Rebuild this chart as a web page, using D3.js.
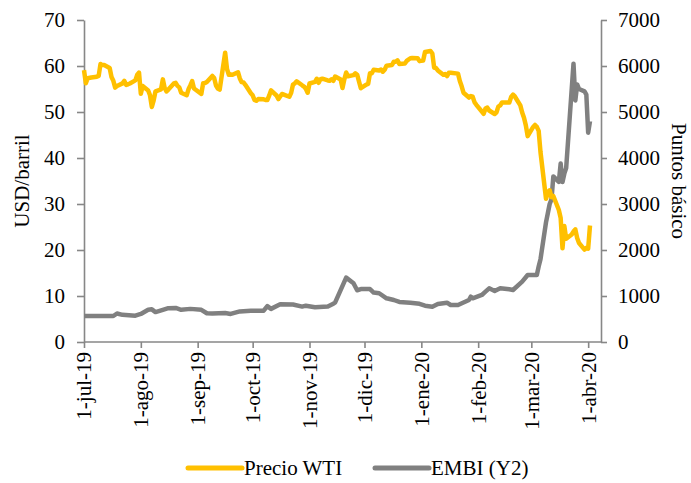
<!DOCTYPE html>
<html>
<head>
<meta charset="utf-8">
<script src="https://cdn.jsdelivr.net/npm/d3@7"></script>
<style>
  body { margin: 0; background: #fff; }
  svg text { font-family: "Liberation Serif", "Times New Roman", serif; fill: #000; }
</style>
</head>
<body>
<figure style="margin:0"></figure>
<script>
// WTI, USD/barril (daily)
const wtiDates = [
  "2019-07-01","2019-07-02","2019-07-03","2019-07-05","2019-07-08","2019-07-09","2019-07-10","2019-07-11","2019-07-12",
  "2019-07-15","2019-07-16","2019-07-17","2019-07-18","2019-07-19","2019-07-22","2019-07-23","2019-07-24","2019-07-25",
  "2019-07-26","2019-07-29","2019-07-30","2019-07-31",
  "2019-08-01","2019-08-02","2019-08-05","2019-08-06","2019-08-07","2019-08-08","2019-08-09","2019-08-12","2019-08-13",
  "2019-08-14","2019-08-15","2019-08-16","2019-08-19","2019-08-20","2019-08-21","2019-08-22","2019-08-23","2019-08-26",
  "2019-08-27","2019-08-28","2019-08-29","2019-08-30",
  "2019-09-03","2019-09-04","2019-09-05","2019-09-06","2019-09-09","2019-09-10","2019-09-11","2019-09-12","2019-09-13",
  "2019-09-16","2019-09-17","2019-09-18","2019-09-19","2019-09-20","2019-09-23","2019-09-24","2019-09-25","2019-09-26",
  "2019-09-27","2019-09-30",
  "2019-10-01","2019-10-02","2019-10-03","2019-10-04","2019-10-07","2019-10-08","2019-10-09","2019-10-10","2019-10-11",
  "2019-10-14","2019-10-15","2019-10-16","2019-10-17","2019-10-18","2019-10-21","2019-10-22","2019-10-23","2019-10-24",
  "2019-10-25","2019-10-28","2019-10-29","2019-10-30","2019-10-31",
  "2019-11-01","2019-11-04","2019-11-05","2019-11-06","2019-11-07","2019-11-08","2019-11-11","2019-11-12","2019-11-13",
  "2019-11-14","2019-11-15","2019-11-18","2019-11-19","2019-11-20","2019-11-21","2019-11-22","2019-11-25","2019-11-26",
  "2019-11-27","2019-11-29",
  "2019-12-02","2019-12-03","2019-12-04","2019-12-05","2019-12-06","2019-12-09","2019-12-10","2019-12-11","2019-12-12",
  "2019-12-13","2019-12-16","2019-12-17","2019-12-18","2019-12-19","2019-12-20","2019-12-23","2019-12-24","2019-12-26",
  "2019-12-27","2019-12-30","2019-12-31",
  "2020-01-02","2020-01-03","2020-01-06","2020-01-07","2020-01-08","2020-01-09","2020-01-10","2020-01-13","2020-01-14",
  "2020-01-15","2020-01-16","2020-01-17","2020-01-21","2020-01-22","2020-01-23","2020-01-24","2020-01-27","2020-01-28",
  "2020-01-29","2020-01-30","2020-01-31",
  "2020-02-03","2020-02-04","2020-02-05","2020-02-06","2020-02-07","2020-02-10","2020-02-11","2020-02-12","2020-02-13",
  "2020-02-14","2020-02-18","2020-02-19","2020-02-20","2020-02-21","2020-02-24","2020-02-25","2020-02-26","2020-02-27",
  "2020-02-28",
  "2020-03-02","2020-03-03","2020-03-04","2020-03-05","2020-03-06","2020-03-09","2020-03-10","2020-03-11","2020-03-12",
  "2020-03-13","2020-03-16","2020-03-17","2020-03-18","2020-03-19","2020-03-20","2020-03-23","2020-03-24","2020-03-25",
  "2020-03-26","2020-03-27","2020-03-30","2020-03-31","2020-04-01","2020-04-02"
];
const wtiValues = [
  59.09,56.25,57.34,57.51,57.66,57.83,60.43,60.20,60.21,
  59.58,57.62,56.78,55.30,55.63,56.22,56.77,55.88,56.02,
  56.20,56.87,58.05,58.58,
  53.95,55.66,54.69,53.63,51.09,52.54,54.50,54.93,57.10,
  55.23,54.47,54.87,56.21,56.34,55.68,55.35,54.17,53.64,
  54.93,55.78,56.71,55.10,
  53.94,56.26,56.30,56.52,57.85,57.40,55.75,55.09,54.85,
  62.90,59.34,58.11,58.13,58.09,58.64,57.29,56.49,56.41,
  55.91,54.07,
  53.62,52.64,52.45,52.81,52.75,52.63,52.59,53.55,54.70,
  53.59,52.81,53.36,53.93,53.78,53.31,54.16,55.97,56.23,
  56.66,55.81,55.54,55.06,54.18,
  56.20,56.54,57.23,56.35,57.15,57.24,56.86,56.80,57.12,
  56.77,57.72,57.05,55.21,57.11,58.58,57.77,58.01,58.41,
  58.11,55.17,
  55.96,56.10,58.43,58.43,59.20,59.02,59.24,58.76,59.18,
  60.07,60.21,60.94,60.93,61.22,60.44,60.52,61.11,61.68,
  61.72,61.68,61.06,
  61.18,63.05,63.27,62.70,59.61,59.56,59.04,58.08,58.23,
  57.81,58.52,58.54,58.34,56.74,55.59,54.19,53.14,53.48,
  53.33,52.14,51.56,
  50.11,49.61,50.75,50.95,50.32,49.57,49.94,51.17,51.42,
  52.05,52.05,53.29,53.78,53.38,51.43,49.90,48.73,47.09,
  44.76,
  46.75,47.18,46.78,45.90,41.28,31.13,32.50,32.98,31.50,
  31.73,28.70,26.95,20.37,25.22,22.43,23.36,24.01,24.49,
  22.60,21.51,20.09,20.48,20.31,25.32
];

// EMBI, puntos básicos
const embiDates = [
  "2019-07-01","2019-07-17","2019-07-19","2019-07-22","2019-07-29","2019-08-01","2019-08-05","2019-08-07","2019-08-09",
  "2019-08-13","2019-08-16","2019-08-20","2019-08-23","2019-08-28","2019-09-03","2019-09-06","2019-09-09","2019-09-16",
  "2019-09-19","2019-09-24","2019-09-30","2019-10-04","2019-10-07","2019-10-09","2019-10-11","2019-10-16","2019-10-23",
  "2019-10-28","2019-10-30","2019-11-04","2019-11-11","2019-11-14","2019-11-15","2019-11-21","2019-11-25","2019-11-27",
  "2019-11-29","2019-12-04","2019-12-06","2019-12-09","2019-12-13","2019-12-17","2019-12-20","2019-12-26","2019-12-31",
  "2020-01-03","2020-01-07","2020-01-10","2020-01-15","2020-01-17","2020-01-21","2020-01-27","2020-01-28","2020-01-29",
  "2020-02-03","2020-02-05","2020-02-07","2020-02-10","2020-02-13","2020-02-18","2020-02-20","2020-02-25","2020-02-28",
  "2020-03-04","2020-03-05","2020-03-06","2020-03-09","2020-03-10","2020-03-11","2020-03-12","2020-03-13","2020-03-16",
  "2020-03-17","2020-03-18","2020-03-19","2020-03-20","2020-03-24","2020-03-25","2020-03-26","2020-03-27","2020-03-30",
  "2020-03-31","2020-04-01","2020-04-02"
];
const embiValues = [
  565,565,620,590,572,610,700,710,650,
  700,735,740,700,720,700,625,620,630,
  610,665,680,680,680,780,720,820,815,
  770,790,755,770,830,860,1400,1276,1125,
  1150,1150,1075,1060,950,913,870,855,830,
  790,768,826,855,804,805,913,985,950,
  1022,1094,1167,1110,1167,1145,1130,1311,1457,
  1457,1640,1800,2600,2800,3000,3100,3600,3480,
  3880,3480,3660,3780,6050,5250,5600,5500,5450,
  5380,4550,4800
];

const xTickDates = ["2019-07-01","2019-08-01","2019-09-01","2019-10-01","2019-11-01","2019-12-01",
                    "2020-01-01","2020-02-01","2020-03-01","2020-04-01"];
const monthNames = ["ene","feb","mar","abr","may","jun","jul","ago","sep","oct","nov","dic"];
const leftTicks = [0,10,20,30,40,50,60,70];
const rightTicks = [0,1000,2000,3000,4000,5000,6000,7000];

const W = 691, H = 483;
const plot = {left: 84, right: 601, top: 20, bottom: 342};
const axisColor = "#878787";
const fontSize = 21;
const serif = '"Liberation Serif", "Times New Roman", serif';
const parse = d3.timeParse("%Y-%m-%d");

const x = d3.scaleTime()
  .domain([parse("2019-07-01"), parse("2020-04-08")])
  .range([plot.left, plot.right]);
const yL = d3.scaleLinear().domain([0, 70]).range([plot.bottom, plot.top]);
const yR = d3.scaleLinear().domain([0, 7000]).range([plot.bottom, plot.top]);

const svg = d3.select('figure').append('svg')
  .attr('width', W).attr('height', H)
  .style('font-family', serif);

// axes
const fmtTick = d => `1-${monthNames[d.getMonth()]}-${String(d.getFullYear()).slice(2)}`;

const gx = svg.append('g')
  .attr('transform', `translate(0,${plot.bottom})`)
  .call(d3.axisBottom(x).tickValues(xTickDates.map(parse)).tickFormat(fmtTick).tickSize(6).tickSizeOuter(0));
gx.selectAll('text')
  .attr('transform', 'rotate(-90)')
  .attr('text-anchor', 'end')
  .attr('x', -10).attr('y', 0).attr('dy', '0.33em');

const gl = svg.append('g')
  .attr('transform', `translate(${plot.left},0)`)
  .call(d3.axisLeft(yL).tickValues(leftTicks).tickFormat(d3.format('d')).tickSize(7).tickSizeOuter(0).tickPadding(12));

const gr = svg.append('g')
  .attr('transform', `translate(${plot.right},0)`)
  .call(d3.axisRight(yR).tickValues(rightTicks).tickFormat(d3.format('d')).tickSize(6).tickSizeOuter(0).tickPadding(11));

[gx, gl, gr].forEach(g => {
  g.attr('font-family', serif).attr('font-size', fontSize);
  g.select('.domain').attr('stroke', axisColor).attr('stroke-width', 1.6);
  g.selectAll('.tick line').attr('stroke', axisColor).attr('stroke-width', 1.6);
  g.selectAll('text').style('font-family', serif).attr('font-size', fontSize).attr('fill', '#000');
});
gx.select('.domain').attr('d', `M${plot.left},0H${plot.right}`);

// series
const wti = wtiDates.map((d, i) => ({date: parse(d), value: wtiValues[i]}));
const embi = embiDates.map((d, i) => ({date: parse(d), value: embiValues[i]}));

svg.append('path')
  .datum(embi)
  .attr('fill', 'none')
  .attr('stroke', '#808080')
  .attr('stroke-width', 4.5)
  .attr('stroke-linejoin', 'round')
  .attr('d', d3.line().x(d => x(d.date)).y(d => yR(d.value)));

svg.append('path')
  .datum(wti)
  .attr('fill', 'none')
  .attr('stroke', '#FFC000')
  .attr('stroke-width', 4.5)
  .attr('stroke-linejoin', 'round')
  .attr('d', d3.line().x(d => x(d.date)).y(d => yL(d.value)));

// axis titles
svg.append('text')
  .attr('transform', `translate(22,${(plot.top + plot.bottom) / 2}) rotate(-90)`)
  .attr('text-anchor', 'middle')
  .attr('dy', '0.35em')
  .attr('font-size', fontSize)
  .text('USD/barril');

svg.append('text')
  .attr('transform', `translate(679,${(plot.top + plot.bottom) / 2}) rotate(90)`)
  .attr('text-anchor', 'middle')
  .attr('dy', '0.35em')
  .attr('font-size', fontSize)
  .text('Puntos básico');

// legend
const legend = [
  {name: 'Precio WTI', color: '#FFC000', x: 188},
  {name: 'EMBI (Y2)', color: '#808080', x: 375}
];
const lg = svg.append('g').selectAll('g').data(legend).join('g')
  .attr('transform', d => `translate(${d.x},468)`);
lg.append('line')
  .attr('x1', 0).attr('x2', 54)
  .attr('stroke', d => d.color).attr('stroke-width', 5).attr('stroke-linecap', 'round');
lg.append('text')
  .attr('x', 56).attr('dy', '0.35em')
  .attr('font-size', fontSize)
  .text(d => d.name);
</script>
</body>
</html>
